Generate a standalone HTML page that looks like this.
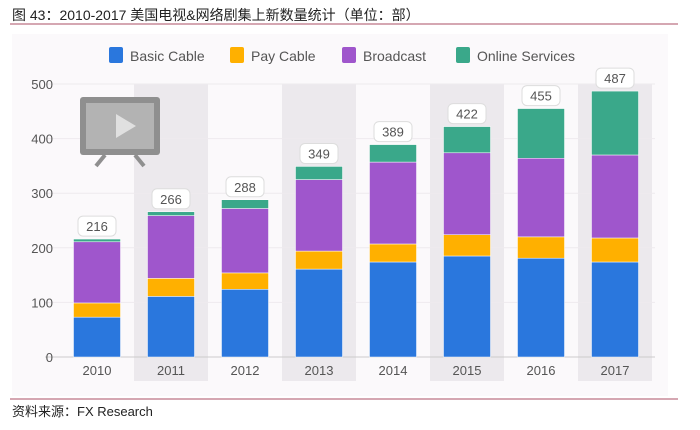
<!DOCTYPE html>
<html><head><meta charset="utf-8"><style>
body{margin:0;width:700px;height:425px;background:#fff;overflow:hidden;font-family:"Liberation Sans","Noto Sans CJK SC",sans-serif;}
</style></head><body>
<svg width="700" height="425" xmlns="http://www.w3.org/2000/svg" id="chart">
<text x="12" y="20" font-size="14" fill="#222" font-family="Liberation Sans, Noto Sans CJK SC, sans-serif">图 43：2010-2017 美国电视&amp;网络剧集上新数量统计（单位：部）</text>
<line x1="10" y1="24" x2="678" y2="24" stroke="#c78a98" stroke-width="1.5"/>
<rect x="12" y="34" width="656" height="362" fill="#fbf9fb"/>
<g id="bands"></g><g id="grid"></g>
<g>
<rect x="80" y="97" width="80" height="58" rx="3" fill="#8f8f8f"/><rect x="86" y="103" width="68" height="46" fill="#b3b3b3"/>
<polygon points="116,114 116,138 136,126" fill="#e0e0e0"/>
<line x1="105" y1="155" x2="96" y2="166" stroke="#8f8f8f" stroke-width="4"/><line x1="135" y1="155" x2="144" y2="166" stroke="#8f8f8f" stroke-width="4"/>
</g>
<g id="bars"></g><g id="labels"></g>
<g id="legend"></g>
<line x1="10" y1="399" x2="678" y2="399" stroke="#c78a98" stroke-width="1.5"/>
<text x="12" y="416" font-size="13" fill="#222" font-family="Liberation Sans, Noto Sans CJK SC, sans-serif">资料来源：FX Research</text>
</svg>
<script>
const categories=["2010","2011","2012","2013","2014","2015","2016","2017"];
const basicCable=[73,111,124,161,174,185,181,174];
const payCable=[26,33,30,33,33,39,39,44];
const broadcast=[112,115,118,131,150,150,144,152];
const online=[5,7,16,24,32,48,91,117];
const totals=[216,266,288,349,389,422,455,487];
const yTicks=[0,100,200,300,400,500];
const seriesNames=["Basic Cable","Pay Cable","Broadcast","Online Services"];
const colors=["#2a77dd","#ffb000","#9f56cc","#3aa88a"];
const NS="http://www.w3.org/2000/svg";
const y0=357,pxPer=0.546,x0=97,step=74,bw=47;
const Y=v=>y0-v*pxPer, X=i=>x0+i*step;
function mk(t,a,p){const e=document.createElementNS(NS,t);for(const k in a)e.setAttribute(k,a[k]);p.appendChild(e);return e;}
const bands=document.getElementById('bands'),grid=document.getElementById('grid'),bars=document.getElementById('bars'),labels=document.getElementById('labels'),legend=document.getElementById('legend');
categories.forEach((c,i)=>{if(i%2==1){const b=mk('rect',{x:X(i)-37,y:84,width:74,height:297,fill:'#ece9ed'},bands);

}});
yTicks.forEach(t=>{const l=mk('line',{x1:45,x2:655,y1:Y(t),y2:Y(t),stroke:t?'#eeeaee':'#ccc','stroke-width':1},grid);


const tx=mk('text',{x:53,y:Y(t)+5,'font-size':13,fill:'#555','text-anchor':'end'},grid);tx.textContent=t;

});
const series=[basicCable,payCable,broadcast,online];
categories.forEach((c,i)=>{let acc=0;series.forEach((s,k)=>{const v=s[i];const r=mk('rect',{x:X(i)-bw/2,y:Y(acc+v),width:bw,height:v*pxPer,fill:colors[k],stroke:'#fff','stroke-width':0.5},bars);

acc+=v;});
const tot=totals[i];const ty=Y(tot)-13;
const bx=mk('rect',{x:X(i)-19,y:ty-10,width:38,height:20,rx:5,fill:'#fff',stroke:'#ddd'},labels);


const t=mk('text',{x:X(i),y:ty+5,'font-size':13,fill:'#555','text-anchor':'middle'},labels);t.textContent=tot;


const xt=mk('text',{x:X(i),y:375,'font-size':13,fill:'#555','text-anchor':'middle'},labels);xt.textContent=c;

});
const lx=[109,230,342,456];
seriesNames.forEach((n,k)=>{const g=mk('g',{},legend);


mk('rect',{x:lx[k],y:47,width:14,height:16,rx:2,fill:colors[k]},g);
const t=mk('text',{x:lx[k]+21,y:61,'font-size':14,fill:'#555'},g);t.textContent=n;});
</script>
</body></html>
